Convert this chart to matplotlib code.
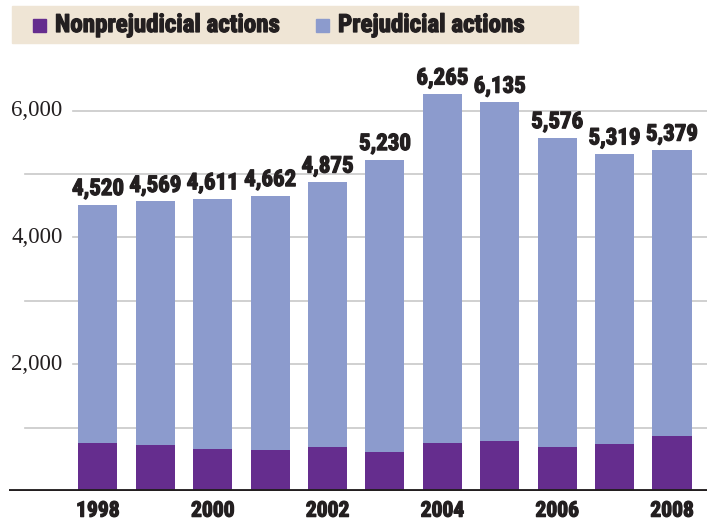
import numpy as np
import matplotlib
matplotlib.use("Agg")
from matplotlib import pyplot as plt
from matplotlib.patches import Rectangle
import matplotlib.patheffects as pe

years = [1998, 1999, 2000, 2001, 2002, 2003, 2004, 2005, 2006, 2007, 2008]
totals = [4520, 4569, 4611, 4662, 4875, 5230, 6265, 6135, 5576, 5319, 5379]
nonprej = [755, 720, 655, 640, 700, 620, 755, 785, 700, 735, 865]
prej = [t - n for t, n in zip(totals, nonprej)]

purple = "#652D8E"
lblue = "#8C9BCD"
dark = "#231F20"
cond = ["Roboto Condensed", "DejaVu Sans"]
serif = ["Liberation Serif", "DejaVu Serif"]
heavy = [pe.withStroke(linewidth=0.9, foreground=dark)]

fig = plt.figure(figsize=(7.07, 5.21), dpi=100)
W, H = 707, 521
# axes spans pixel x 9..707, y 60..491
ax = fig.add_axes([9 / W, (H - 491) / H, (707 - 9) / W, (491 - 60) / H])

x = np.arange(len(years))
ax.bar(x, nonprej, width=0.68, color=purple, zorder=3)
ax.bar(x, prej, bottom=nonprej, width=0.68, color=lblue, zorder=3)

ax.set_xlim(-1.55, 10.61)
ax.set_ylim(0, 6800)

# gridlines
for v in [1000, 3000, 5000]:
    ax.axhline(v, xmin=(25 - 9) / 698, xmax=1, color="#c8c8c8", lw=1.2, zorder=1)
for v in [2000, 4000, 6000]:
    ax.axhline(v, xmin=(73 - 9) / 698, xmax=1, color="#c8c8c8", lw=1.2, zorder=1)
    ax.text(-0.62, v, f"{v:,}", ha="right", va="center", fontsize=16.5,
            family=serif, color=dark)

ax.axhline(0, color=dark, lw=3.5, zorder=4)

for xi, t in zip(x, totals):
    ax.text(xi, t + 70, f"{t:,}", ha="center", va="bottom", fontsize=16.5,
            fontweight="bold", family=cond, color=dark, path_effects=heavy)

for xi, yr in zip(x, years):
    if yr % 2 == 0:
        ax.text(xi, -310, str(yr), ha="center", va="center", fontsize=15.5,
                fontweight="bold", family=cond, color=dark, path_effects=heavy)

for s in ax.spines.values():
    s.set_visible(False)
ax.set_xticks([])
ax.set_yticks([])

# legend band
fig.patches.append(Rectangle((12 / W, (H - 43) / H), (578 - 12) / W, 37 / H,
                             transform=fig.transFigure, color="#EFE5D5", zorder=0))
fig.patches.append(Rectangle((33 / W, (H - 32) / H), 13 / W, 13 / H,
                             transform=fig.transFigure, color=purple))
fig.text(55 / W, (H - 25) / H, "Nonprejudicial actions", ha="left", va="center",
         fontsize=18, fontweight="bold", family=cond, color=dark, path_effects=heavy)
fig.patches.append(Rectangle((316 / W, (H - 32) / H), 13 / W, 13 / H,
                             transform=fig.transFigure, color=lblue))
fig.text(338 / W, (H - 25) / H, "Prejudicial actions", ha="left", va="center",
         fontsize=18, fontweight="bold", family=cond, color=dark, path_effects=heavy)

fig.savefig("out.png", dpi=100)
